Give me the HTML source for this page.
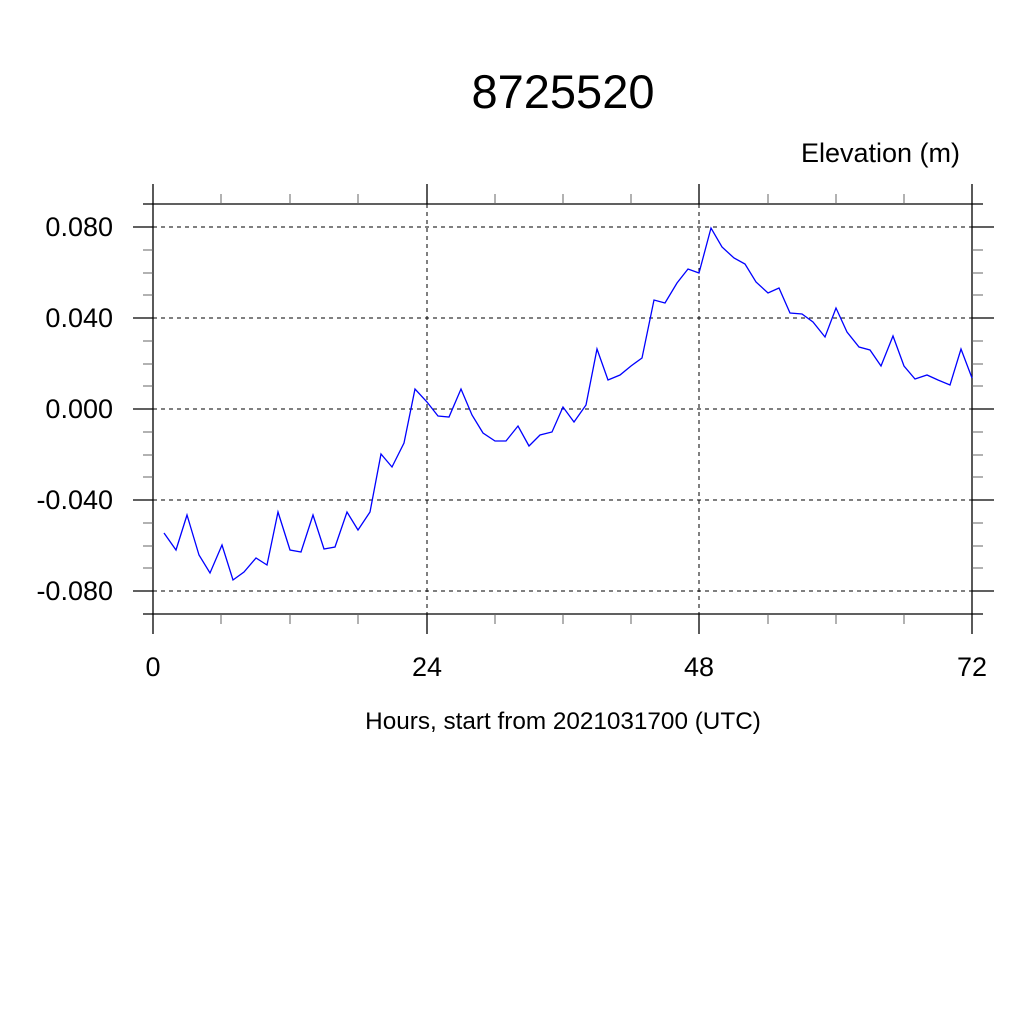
<!DOCTYPE html>
<html><head><meta charset="utf-8"><style>body{margin:0;background:#fff}</style></head><body>
<svg width="1024" height="1024" xmlns="http://www.w3.org/2000/svg" font-family="Liberation Sans, sans-serif">
<rect width="1024" height="1024" fill="#fff"/>
<text x="563" y="108" font-size="47" text-anchor="middle">8725520</text>
<text x="960" y="162" font-size="27" text-anchor="end">Elevation (m)</text>
<g stroke="#000" stroke-width="1" stroke-dasharray="4,4">
<line x1="153" y1="227" x2="972" y2="227"/><line x1="153" y1="318" x2="972" y2="318"/>
<line x1="153" y1="409" x2="972" y2="409"/><line x1="153" y1="500" x2="972" y2="500"/>
<line x1="153" y1="591" x2="972" y2="591"/>
<line x1="427" y1="204" x2="427" y2="614"/><line x1="699" y1="204" x2="699" y2="614"/>
</g>
<g stroke="#000" stroke-width="1.3">
<line x1="143" y1="204" x2="983" y2="204"/><line x1="143" y1="614" x2="983" y2="614"/>
<line x1="153" y1="184" x2="153" y2="634"/><line x1="972" y1="184" x2="972" y2="634"/>
<line x1="427" y1="184" x2="427" y2="204"/><line x1="699" y1="184" x2="699" y2="204"/>
<line x1="427" y1="614" x2="427" y2="634"/><line x1="699" y1="614" x2="699" y2="634"/>
<line x1="133" y1="227" x2="153" y2="227"/><line x1="133" y1="318" x2="153" y2="318"/><line x1="133" y1="409" x2="153" y2="409"/><line x1="133" y1="500" x2="153" y2="500"/><line x1="133" y1="591" x2="153" y2="591"/>
<line x1="972" y1="227" x2="994" y2="227"/><line x1="972" y1="318" x2="994" y2="318"/><line x1="972" y1="409" x2="994" y2="409"/><line x1="972" y1="500" x2="994" y2="500"/><line x1="972" y1="591" x2="994" y2="591"/>
</g>
<g stroke="#666" stroke-width="1">
<line x1="221" y1="194" x2="221" y2="204"/><line x1="290" y1="194" x2="290" y2="204"/><line x1="358" y1="194" x2="358" y2="204"/><line x1="495" y1="194" x2="495" y2="204"/><line x1="563" y1="194" x2="563" y2="204"/><line x1="631" y1="194" x2="631" y2="204"/><line x1="768" y1="194" x2="768" y2="204"/><line x1="836" y1="194" x2="836" y2="204"/><line x1="904" y1="194" x2="904" y2="204"/>
<line x1="221" y1="614" x2="221" y2="624"/><line x1="290" y1="614" x2="290" y2="624"/><line x1="358" y1="614" x2="358" y2="624"/><line x1="495" y1="614" x2="495" y2="624"/><line x1="563" y1="614" x2="563" y2="624"/><line x1="631" y1="614" x2="631" y2="624"/><line x1="768" y1="614" x2="768" y2="624"/><line x1="836" y1="614" x2="836" y2="624"/><line x1="904" y1="614" x2="904" y2="624"/>
<line x1="143" y1="250" x2="153" y2="250"/><line x1="143" y1="273" x2="153" y2="273"/><line x1="143" y1="295" x2="153" y2="295"/><line x1="143" y1="341" x2="153" y2="341"/><line x1="143" y1="364" x2="153" y2="364"/><line x1="143" y1="386" x2="153" y2="386"/><line x1="143" y1="432" x2="153" y2="432"/><line x1="143" y1="455" x2="153" y2="455"/><line x1="143" y1="477" x2="153" y2="477"/><line x1="143" y1="523" x2="153" y2="523"/><line x1="143" y1="546" x2="153" y2="546"/><line x1="143" y1="568" x2="153" y2="568"/>
<line x1="972" y1="250" x2="983" y2="250"/><line x1="972" y1="273" x2="983" y2="273"/><line x1="972" y1="295" x2="983" y2="295"/><line x1="972" y1="341" x2="983" y2="341"/><line x1="972" y1="364" x2="983" y2="364"/><line x1="972" y1="386" x2="983" y2="386"/><line x1="972" y1="432" x2="983" y2="432"/><line x1="972" y1="455" x2="983" y2="455"/><line x1="972" y1="477" x2="983" y2="477"/><line x1="972" y1="523" x2="983" y2="523"/><line x1="972" y1="546" x2="983" y2="546"/><line x1="972" y1="568" x2="983" y2="568"/>
</g>
<g font-size="27" text-anchor="end">
<text x="113" y="236">0.080</text><text x="113" y="327">0.040</text><text x="113" y="418">0.000</text><text x="113" y="509">-0.040</text><text x="113" y="600">-0.080</text>
</g>
<g font-size="27" text-anchor="middle">
<text x="153" y="676">0</text><text x="427" y="676">24</text><text x="699" y="676">48</text><text x="972" y="676">72</text>
</g>
<text x="563" y="729" font-size="24.3" text-anchor="middle">Hours, start from 2021031700 (UTC)</text>
<polyline fill="none" stroke="#0000ff" stroke-width="1.3" points="164,533 176,550 187,515 199,555 210,573 222,545 233,580 244,572 256,558 267,565 278,512 290,550 301,552 313,515 324,549 335,547 347,512 358,530 370,512 381,454 392,467 404,443 415,389 427,402 438,416 449,417 461,389 472,415 483,433 495,441 506,441 518,426 529,446 540,435 552,432 563,407 574,422 586,405 597,349 608,380 620,375 631,366 642,358 654,300 665,303 677,283 688,269 699,273 711,228 722,247 734,258 745,264 756,282 768,293 779,288 790,313 802,314 813,322 825,337 836,308 847,332 859,347 870,350 881,366 893,336 904,366 915,379 927,375 938,380 950,385 961,349 972,378"/>
</svg>
</body></html>
